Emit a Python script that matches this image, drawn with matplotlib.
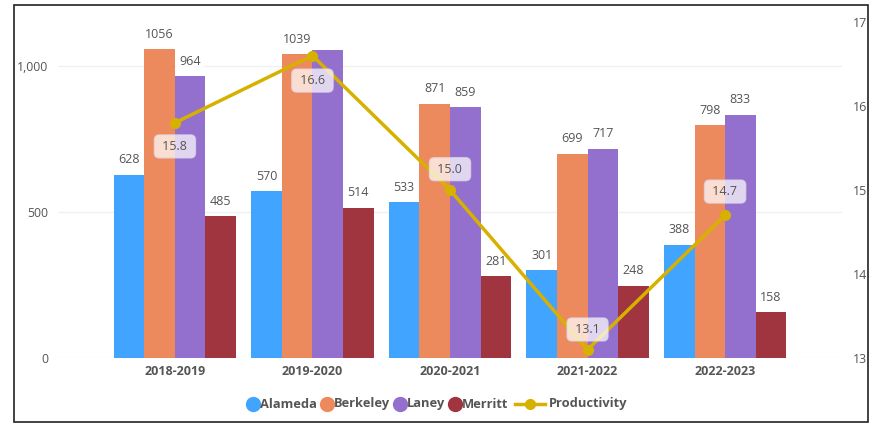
import numpy as np
import matplotlib
matplotlib.use('Agg')
import matplotlib.pyplot as plt
from matplotlib.patches import Rectangle
from matplotlib.lines import Line2D

plt.rcParams['font.family'] = ['Open Sans', 'DejaVu Sans']

years = ['2018-2019', '2019-2020', '2020-2021', '2021-2022', '2022-2023']
alameda = [628, 570, 533, 301, 388]
berkeley = [1056, 1039, 871, 699, 798]
laney = [964, 1055, 859, 717, 833]
merritt = [485, 514, 281, 248, 158]
productivity = [15.8, 16.6, 15.0, 13.1, 14.7]

colleges = ['Alameda', 'Berkeley', 'Laney', 'Merritt']
series = [alameda, berkeley, laney, merritt]
colors = ['#41A4FF', '#EC8A5E', '#9370CD', '#A0343F']
line_color = '#D6B100'
text_color = '#555555'

fig = plt.figure(figsize=(8.8, 4.24), dpi=100)
ax = fig.add_axes([58/880, 66/424, 784/880, 336/424])
ax2 = ax.twinx()

x = np.arange(len(years))
w = 0.222
for i, (name, vals, c) in enumerate(zip(colleges, series, colors)):
    pos = x + (i - 1.5) * w
    ax.bar(pos, vals, width=w, color=c, zorder=2)
    for p, v in zip(pos, vals):
        # this label is hidden in the original (overlaps 1039)
        if name == 'Laney' and v == 1055:
            continue
        ax.annotate(str(v), (p, v), xytext=(0, 6), textcoords='offset points',
                    ha='center', va='bottom', fontsize=9, color=text_color,
                    bbox=dict(boxstyle='round,pad=0.25', fc='white', ec='none', alpha=0.85),
                    zorder=3)

ax.set_xlim(-0.85, 4.85)
ax.set_ylim(0, 1150)
ax.set_yticks([0, 500, 1000])
ax.set_yticklabels(['0', '500', '1,000'])
ax.grid(axis='y', color='#F0F0F0', linewidth=1, zorder=0)
ax.set_axisbelow(True)
ax.set_xticks(x)
ax.set_xticklabels(years, fontweight='bold', fontsize=9, color=text_color)
ax.tick_params(axis='x', length=0, pad=5)
ax.tick_params(axis='y', length=0, labelsize=8.8, labelcolor=text_color, pad=7)

ax2.plot(x, productivity, color=line_color, linewidth=2.5, marker='o', markersize=7, zorder=5)
ax2.set_ylim(13, 17)
ax2.set_yticks([13, 14, 15, 16, 17])
ax2.tick_params(axis='y', length=0, labelsize=9, labelcolor=text_color, pad=8)
offsets = [-17, -18, 15, 14.5, 17]
for xi, v, off in zip(x, productivity, offsets):
    ax2.annotate(f' {v:.1f} ', (xi, v), xytext=(0, off), textcoords='offset points',
                 ha='center', va='center', fontsize=9, color=text_color,
                 bbox=dict(boxstyle='round,pad=0.4', fc='white', ec='#E2D8EA', alpha=0.72),
                 zorder=6)

for a in (ax, ax2):
    for s in a.spines.values():
        s.set_visible(False)

# legend laid out by hand so the circles and the line key sit tight like the original
fig.canvas.draw()
renderer = fig.canvas.get_renderer()
ly = 20 / 424
cur = 248
labels = colleges + ['Productivity']
for i, lab in enumerate(labels):
    if i < 4:
        fig.add_artist(Line2D([(cur + 5) / 880], [ly], transform=fig.transFigure,
                              marker='o', linestyle='none', color=colors[i], markersize=10))
        cur += 12
    else:
        fig.add_artist(Line2D([(cur + 1) / 880, (cur + 31) / 880], [ly, ly], transform=fig.transFigure,
                              color=line_color, linewidth=2.5))
        fig.add_artist(Line2D([(cur + 16) / 880], [ly], transform=fig.transFigure,
                              marker='o', linestyle='none', color=line_color, markersize=7))
        cur += 35
    t = fig.text(cur / 880, ly, lab, ha='left', va='center', fontsize=9.3,
                 fontweight='bold', color=text_color)
    cur += t.get_window_extent(renderer).width + 5

fig.patches.append(Rectangle((14/880, 2/424), 854/880, 417/424, transform=fig.transFigure,
                             fill=False, edgecolor='#222222', linewidth=1.2))

fig.savefig('out.png', dpi=100)
